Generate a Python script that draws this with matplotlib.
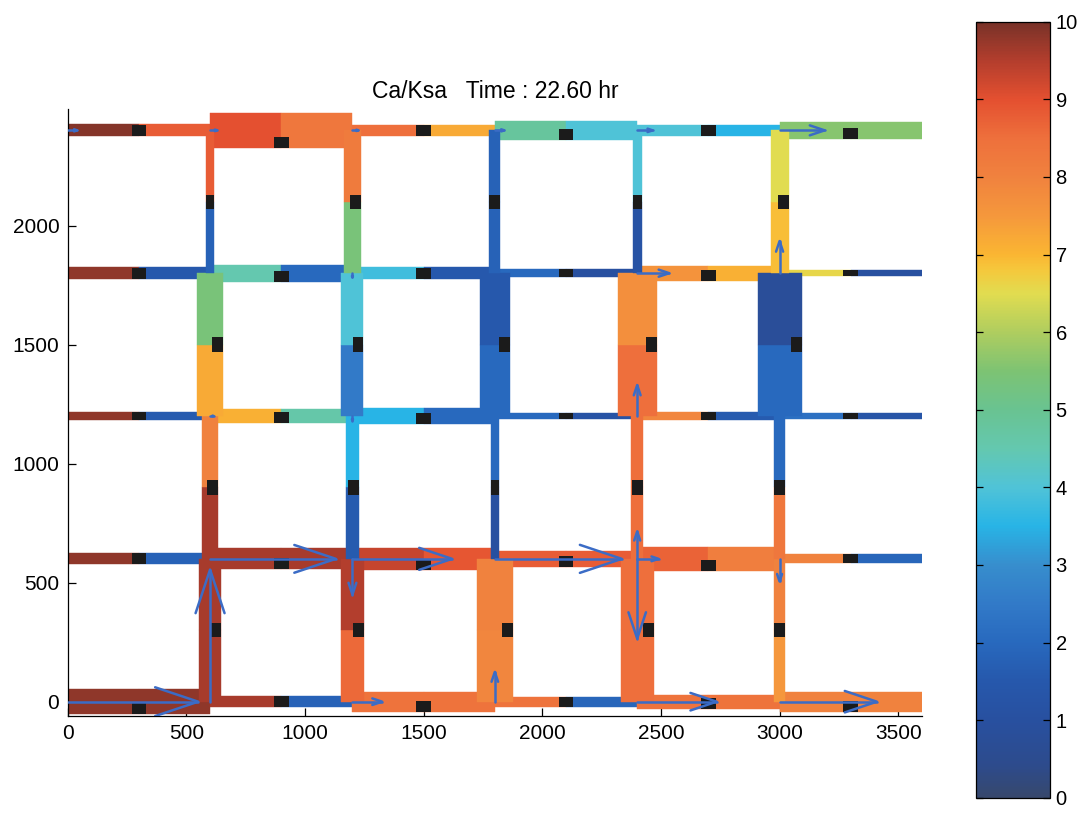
import numpy as np
import matplotlib
matplotlib.use("Agg")
import matplotlib.pyplot as plt
from matplotlib.colors import LinearSegmentedColormap, Normalize
from matplotlib.patches import Rectangle
from matplotlib.cm import ScalarMappable

plt.rcParams['font.family'] = ['Liberation Sans', 'DejaVu Sans']

# ---------------- data ----------------
title_text = "Ca/Ksa   Time : 22.60 hr"
node_x = [0, 600, 1200, 1800, 2400, 3000, 3600]
node_y = [0, 600, 1200, 1800, 2400]

# horizontal pipes: one row per node_y, one column per span between node_x
h_first = [  # value on left half
    [9.8, 9.6, 8.4, 8.4, 8.4, 8.0],
    [9.8, 9.6, 9.3, 8.8, 8.7, 8.0],
    [9.8, 7.1, 3.5, 2.0, 7.9, 2.2],
    [9.8, 4.5, 3.8, 2.0, 7.6, 6.6],
    [9.9, 9.0, 8.5, 4.8, 4.0, 5.6],
]
h_second = [  # value on right half
    [9.8, 1.8, 8.4, 1.9, 8.4, 8.0],
    [1.8, 9.6, 8.9, 8.8, 8.1, 1.9],
    [1.6, 4.6, 2.0, 1.2, 1.6, 1.3],
    [1.5, 2.0, 1.5, 1.0, 7.1, 1.0],
    [8.8, 8.3, 7.2, 4.0, 3.5, 5.6],
]
h_width = [
    [105, 46, 83, 42, 60, 84],
    [46, 87, 94, 66, 101, 38],
    [35, 60, 66, 24, 32, 24],
    [50, 72, 50, 31, 62, 23],
    [50, 147, 45, 80, 45, 73],
]

# vertical pipes: one row per column x, one entry per span between node_y
vert_x = [600, 1200, 1800, 2400, 3000]
v_lower = [
    [9.6, 9.6, 7.2, 1.8],
    [8.6, 1.6, 2.5, 5.4],
    [7.9, 1.0, 2.0, 1.8],
    [8.5, 8.5, 8.5, 1.2],
    [7.5, 8.3, 2.0, 6.9],
]
v_upper = [
    [9.6, 8.0, 5.4, 8.8],
    [9.5, 3.5, 4.0, 8.2],
    [8.0, 2.0, 1.5, 1.8],
    [8.5, 8.5, 7.7, 4.0],
    [8.0, 2.0, 0.8, 6.5],
]
v_width = [
    [91, 67, 110, 32],
    [97, 54, 93, 70],
    [154, 32, 126, 46],
    [139, 52, 165, 38],
    [49, 45, 185, 76],
]

# flow arrows (start x, start y, dx, dy)
arrow_x = [0, 600, 1200, 1800, 2400, 3000,
           600, 1200, 1200, 1800, 2400, 2400, 2400, 3000,
           2400, 2400, 3000, 2400, 3000,
           0, 600, 1200, 1800, 600, 1200, 1200]
arrow_y = [0, 0, 0, 0, 0, 0,
           600, 600, 600, 600, 600, 600, 600, 600,
           1200, 1800, 1800, 2400, 2400,
           2400, 2400, 2400, 2400, 1200, 1200, 1800]
arrow_u = [550, 0, 125, 0, 335, 410,
           530, 420, 0, 535, 90, 0, 0, 0,
           0, 135, 0, 65, 190,
           40, 30, 25, 40, 15, 0, 0]
arrow_v = [0, 555, 0, 125, 0, 0,
           0, 0, -150, 0, 0, 115, -335, -95,
           130, 0, 135, 0, 0,
           0, 0, 0, 0, 0, -20, -18]

cbar_ticks = list(range(0, 11))
x_ticks = [0, 500, 1000, 1500, 2000, 2500, 3000, 3500]
y_ticks = [0, 500, 1000, 1500, 2000]

# ---------------- colormap ----------------
stops = [
    (0.0, (55, 72, 108)), (0.4, (45, 75, 140)), (1.0, (40, 80, 160)),
    (1.5, (38, 88, 172)), (2.0, (40, 105, 190)), (2.5, (50, 122, 200)),
    (3.0, (55, 142, 205)), (3.5, (40, 180, 230)), (4.0, (80, 195, 215)),
    (4.5, (100, 200, 175)), (5.0, (105, 195, 145)), (5.5, (125, 195, 115)),
    (6.0, (175, 205, 95)), (6.5, (225, 220, 80)), (6.8, (245, 200, 60)),
    (7.0, (250, 182, 50)), (7.5, (245, 152, 60)), (8.0, (240, 130, 62)),
    (8.5, (238, 112, 60)), (9.0, (228, 80, 48)), (9.5, (180, 62, 45)),
    (10.0, (120, 50, 40)),
]
cmap = LinearSegmentedColormap.from_list(
    "scan", [(v / 10.0, tuple(c / 255 for c in rgb)) for v, rgb in stops], N=512)
norm = Normalize(0, 10)

# ---------------- figure ----------------
fig = plt.figure(figsize=(10.83, 8.19), dpi=100)
ax = fig.add_axes([0.0625, 0.1258, 0.7888, 0.7412])
ax.set_xlim(0, 3600)
ax.set_ylim(-60, 2490)

def rect(x, y, w, h, val, z=2):
    c = cmap(norm(val))
    ax.add_patch(Rectangle((x, y), w, h, facecolor=c, edgecolor=c, lw=0.3, zorder=z))

mk_len, mk_th = 62, 46
markers = []
for r, y in enumerate(node_y):
    for k in range(len(node_x) - 1):
        x0, x1 = node_x[k], node_x[k + 1]
        xm = 0.5 * (x0 + x1)
        w = h_width[r][k]
        rect(x0, y - w / 2, xm - x0, w, h_first[r][k])
        rect(xm, y - w / 2, x1 - xm, w, h_second[r][k])
        t = min(w, mk_th)
        markers.append((xm - mk_len / 2, y - w / 2, mk_len, t))

for c, x in enumerate(vert_x):
    for k in range(len(node_y) - 1):
        y0, y1 = node_y[k], node_y[k + 1]
        ym = 0.5 * (y0 + y1)
        w = v_width[c][k]
        rect(x - w / 2, y0, w, ym - y0, v_lower[c][k], z=3)
        rect(x - w / 2, ym, w, y1 - ym, v_upper[c][k], z=3)
        t = min(w, mk_th)
        markers.append((x + w / 2 - t, ym - 30, t, 60))

for (mx, my, mw, mh) in markers:
    ax.add_patch(Rectangle((mx, my), mw, mh, facecolor='#1b1b1b',
                           edgecolor='none', zorder=4))

acol = '#3b6cc6'
for x, y, u, v in zip(arrow_x, arrow_y, arrow_u, arrow_v):
    L = np.hypot(u, v)
    ux, uy = u / L, v / L
    px, py = -uy, ux
    tx, ty = x + u, y + v
    hl, hw = 0.33 * L, 0.11 * L
    bx, by = tx - hl * ux, ty - hl * uy
    ax.plot([x, tx], [y, ty], color=acol, lw=1.8, zorder=5, solid_capstyle='round')
    ax.plot([bx + hw * px, tx, bx - hw * px], [by + hw * py, ty, by - hw * py],
            color=acol, lw=1.8, zorder=5, solid_capstyle='round')

ax.spines['top'].set_visible(False)
ax.spines['right'].set_visible(False)
ax.spines['left'].set_linewidth(0.9)
ax.spines['bottom'].set_linewidth(0.9)
ax.set_xticks(x_ticks)
ax.set_yticks(y_ticks)
ax.tick_params(direction='in', length=6, width=0.9, labelsize=15, pad=6)
ax.set_title(title_text, fontsize=16.5, pad=8)

cax = fig.add_axes([0.9012, 0.026, 0.0683, 0.9475])
cb = fig.colorbar(ScalarMappable(norm=norm, cmap=cmap), cax=cax, ticks=cbar_ticks)
cb.outline.set_linewidth(0.9)
cax.tick_params(direction='in', length=5, width=0.9, labelsize=14.5,
                left=True, right=True, labelleft=False, labelright=True, pad=4)

fig.savefig("out.png", dpi=100)
